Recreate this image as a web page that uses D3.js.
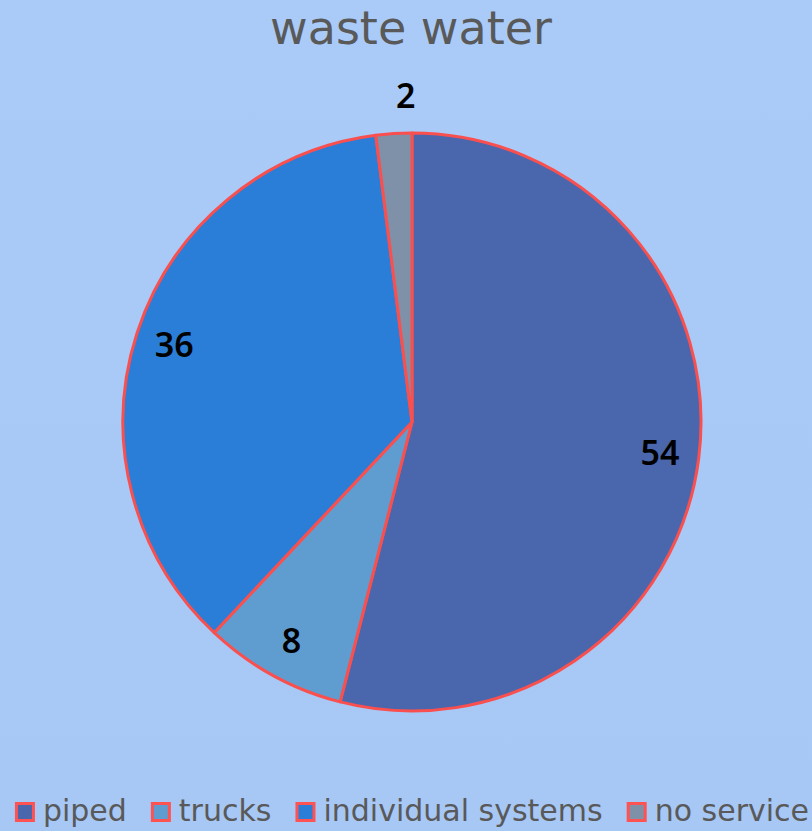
<!DOCTYPE html>
<html>
<head>
<meta charset="utf-8">
<script src="https://cdn.jsdelivr.net/npm/d3@7"></script>
<style>
  html, body { margin: 0; padding: 0; }
  body { width: 812px; height: 831px; overflow: hidden; }
</style>
</head>
<body>
<div id="chart"></div>
<script>
var categories = ['piped', 'trucks', 'individual systems', 'no service'];
var values = [54, 8, 36, 2];
var colors = ['#4A67AE', '#5F9DD0', '#2A7ED7', '#7F91A9'];
var title = 'waste water';

var width = 812;
var height = 831;
var cx = 412, cy = 422, radius = 289;

var svg = d3.select('#chart')
    .append('svg')
    .attr('width', width)
    .attr('height', height);

var grad = svg.append('defs')
    .append('linearGradient')
    .attr('id', 'bg')
    .attr('x1', 0).attr('y1', 0).attr('x2', 0).attr('y2', 1);
grad.append('stop').attr('offset', '0%').attr('stop-color', '#AACBF8');
grad.append('stop').attr('offset', '100%').attr('stop-color', '#A7C7F5');

svg.append('rect')
    .attr('width', width)
    .attr('height', height)
    .attr('fill', 'url(#bg)');

svg.append('text')
    .attr('x', 411)
    .attr('y', 44)
    .attr('text-anchor', 'middle')
    .style('font-family', 'DejaVu Sans')
    .style('font-size', '46px')
    .style('fill', '#595959')
    .text(title);

var data = categories.map(function(c, i) {
    return { name: c, value: values[i], color: colors[i] };
});

var pie = d3.pie()
    .sort(null)
    .value(function(d) { return d.value; });

var arc = d3.arc()
    .innerRadius(0)
    .outerRadius(radius);

var labelArc = d3.arc()
    .innerRadius(radius * 0.865)
    .outerRadius(radius * 0.865);

var outerArc = d3.arc()
    .innerRadius(radius + 12)
    .outerRadius(radius + 12);

var chart = svg.append('g')
    .attr('transform', `translate(${cx}, ${cy})`);

var arcs = pie(data);

chart.selectAll('path')
    .data(arcs)
    .enter()
    .append('path')
    .attr('d', arc)
    .attr('fill', function(d) { return d.data.color; })
    .attr('stroke', '#F9504F')
    .attr('stroke-width', 3)
    .attr('stroke-linejoin', 'round');

chart.selectAll('text.label')
    .data(arcs)
    .enter()
    .append('text')
    .attr('class', 'label')
    .each(function(d) {
        var small = d.endAngle - d.startAngle < 0.3;
        var p = small ? outerArc.centroid(d) : labelArc.centroid(d);
        var t = d3.select(this);
        if (small) {
            t.attr('x', p[0] + 3).attr('y', p[1] - 14).attr('text-anchor', 'start');
        } else {
            t.attr('x', p[0]).attr('y', p[1] + 12).attr('text-anchor', 'middle');
        }
    })
    .style('font-family', 'Noto Sans')
    .style('font-weight', 600)
    .style('font-size', '34px')
    .style('fill', '#000')
    .text(function(d) { return d.data.value; });

// legend
var legend = svg.append('g');
var items = legend.selectAll('g')
    .data(data)
    .enter()
    .append('g');

items.append('rect')
    .attr('x', 1.5)
    .attr('y', -17.5)
    .attr('width', 17)
    .attr('height', 17)
    .attr('fill', function(d) { return d.color; })
    .attr('stroke', '#FF5252')
    .attr('stroke-width', 3);

items.append('text')
    .attr('x', 28)
    .attr('y', 0)
    .style('font-family', 'DejaVu Sans')
    .style('font-size', '30px')
    .style('fill', '#595959')
    .text(function(d) { return d.name; });

var gap = 24;
var offsets = [];
var pos = 0;
items.each(function() {
    offsets.push(pos);
    pos += 28 + this.querySelector('text').getComputedTextLength() + gap;
});
var total = pos - gap;
var startX = 412 - total / 2;
items.attr('transform', function(d, i) {
    return `translate(${startX + offsets[i]}, 821)`;
});
</script>
</body>
</html>
